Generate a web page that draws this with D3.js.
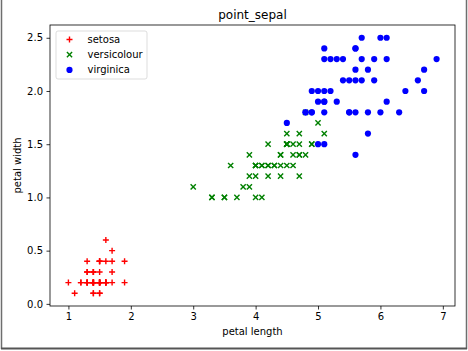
<!DOCTYPE html>
<html>
<head>
<meta charset="utf-8">
<script src="https://cdn.jsdelivr.net/npm/d3@7"></script>
<style>
  body { margin: 0; background: #fff; }
  text { font-family: "DejaVu Sans", sans-serif; fill: #000; }
</style>
</head>
<body>
<div id="canvas"></div>
<script>
"use strict"

/* Iris petal measurements, one pair of arrays per species */
let setosaLength = [1.4,1.4,1.3,1.5,1.4,1.7,1.4,1.5,1.4,1.5,1.5,1.6,1.4,1.1,1.2,1.5,1.3,1.4,1.7,1.5,
    1.7,1.5,1.0,1.7,1.9,1.6,1.6,1.5,1.4,1.6,1.6,1.5,1.5,1.4,1.5,1.2,1.3,1.4,1.3,1.5,
    1.3,1.3,1.3,1.6,1.9,1.4,1.6,1.4,1.5,1.4];
let setosaWidth = [0.2,0.2,0.2,0.2,0.2,0.4,0.3,0.2,0.2,0.1,0.2,0.2,0.1,0.1,0.2,0.4,0.4,0.3,0.3,0.3,
    0.2,0.4,0.2,0.5,0.2,0.2,0.4,0.2,0.2,0.2,0.2,0.4,0.1,0.2,0.2,0.2,0.2,0.1,0.2,0.2,
    0.3,0.3,0.2,0.6,0.4,0.3,0.2,0.2,0.2,0.2];

let versicolourLength = [4.7,4.5,4.9,4.0,4.6,4.5,4.7,3.3,4.6,3.9,3.5,4.2,4.0,4.7,3.6,4.4,4.5,4.1,4.5,3.9,
    4.8,4.0,4.9,4.7,4.3,4.4,4.8,5.0,4.5,3.5,3.8,3.7,3.9,5.1,4.5,4.5,4.7,4.4,4.1,4.0,
    4.4,4.6,4.0,3.3,4.2,4.2,4.2,4.3,3.0,4.1];
let versicolourWidth = [1.4,1.5,1.5,1.3,1.5,1.3,1.6,1.0,1.3,1.4,1.0,1.5,1.0,1.4,1.3,1.4,1.5,1.0,1.5,1.1,
    1.8,1.3,1.5,1.2,1.3,1.4,1.4,1.7,1.5,1.0,1.1,1.0,1.2,1.6,1.5,1.6,1.5,1.3,1.3,1.3,
    1.2,1.4,1.2,1.0,1.3,1.2,1.3,1.3,1.1,1.3];

let virginicaLength = [6.0,5.1,5.9,5.6,5.8,6.6,4.5,6.3,5.8,6.1,5.1,5.3,5.5,5.0,5.1,5.3,5.5,6.7,6.9,5.0,
    5.7,4.9,6.7,4.9,5.7,6.0,4.8,4.9,5.6,5.8,6.1,6.4,5.6,5.1,5.6,6.1,5.6,5.5,4.8,5.4,
    5.6,5.1,5.1,5.9,5.7,5.2,5.0,5.2,5.4,5.1];
let virginicaWidth = [2.5,1.9,2.1,1.8,2.2,2.1,1.7,1.8,1.8,2.5,2.0,1.9,2.1,2.0,2.4,2.3,1.8,2.2,2.3,1.5,
    2.3,2.0,2.0,1.8,2.1,1.8,1.8,1.8,2.1,1.6,1.9,2.0,2.2,1.5,1.4,2.3,2.4,1.8,1.8,2.1,
    2.4,2.3,1.9,2.3,2.5,2.3,1.9,2.0,2.3,1.8];

let speciesNames = ["setosa", "versicolour", "virginica"];
let xTicks = [1, 2, 3, 4, 5, 6, 7];
let yTicks = [0.0, 0.5, 1.0, 1.5, 2.0, 2.5];

/* Drawing configuration */
let svgWidth = 468;
let svgHeight = 351;
let margin = { top: 25, right: 13, bottom: 45, left: 50 };
let chartWidth = svgWidth - margin.left - margin.right;
let chartHeight = svgHeight - margin.top - margin.bottom;

let svg = d3.select("#canvas")
    .append("svg")
    .attr("width", svgWidth)
    .attr("height", svgHeight);

// window frame around the figure
svg.append("rect").attr("width", svgWidth).attr("height", svgHeight).attr("fill", "#fff");
svg.append("line").attr("x1", 1.5).attr("x2", 1.5).attr("y1", 0).attr("y2", 349)
    .attr("stroke", "#6e6e6e").attr("stroke-width", 1.5);
svg.append("line").attr("x1", 466.5).attr("x2", 466.5).attr("y1", 0).attr("y2", 349)
    .attr("stroke", "#6e6e6e").attr("stroke-width", 1.5);
svg.append("line").attr("x1", 1).attr("x2", 467).attr("y1", 348.5).attr("y2", 348.5)
    .attr("stroke", "#555").attr("stroke-width", 2);

/* Group the arrays into point lists */
function zipPoints(xs, ys) {
    return xs.map(function(x, i) { return { x: x, y: ys[i] }; });
}
let seriesList = [
    { name: speciesNames[0], points: zipPoints(setosaLength, setosaWidth), color: "#ff0000", marker: "plus" },
    { name: speciesNames[1], points: zipPoints(versicolourLength, versicolourWidth), color: "#008000", marker: "cross" },
    { name: speciesNames[2], points: zipPoints(virginicaLength, virginicaWidth), color: "#0000ff", marker: "dot" }
];

/* Scales with matplotlib-like 5% padding */
let allX = setosaLength.concat(versicolourLength, virginicaLength);
let allY = setosaWidth.concat(versicolourWidth, virginicaWidth);
let xExt = d3.extent(allX);
let yExt = d3.extent(allY);
let xPad = (xExt[1] - xExt[0]) * 0.05;
let yPad = (yExt[1] - yExt[0]) * 0.05;

let xScale = d3.scaleLinear()
    .domain([xExt[0] - xPad, xExt[1] + xPad])
    .range([margin.left, margin.left + chartWidth]);
let yScale = d3.scaleLinear()
    .domain([yExt[0] - yPad, yExt[1] + yPad])
    .range([margin.top + chartHeight, margin.top]);

/* Axes */
let xAxis = d3.axisBottom(xScale).tickValues(xTicks).tickFormat(d3.format("d"))
    .tickSizeInner(3.5).tickSizeOuter(0).tickPadding(3.5);
let yAxis = d3.axisLeft(yScale).tickValues(yTicks).tickFormat(d3.format(".1f"))
    .tickSizeInner(3.5).tickSizeOuter(0).tickPadding(3.5);

let gx = svg.append("g")
    .attr("transform", "translate(0," + (margin.top + chartHeight) + ")")
    .call(xAxis);
let gy = svg.append("g")
    .attr("transform", "translate(" + margin.left + ",0)")
    .call(yAxis);
[gx, gy].forEach(function(g) {
    g.select(".domain").remove();
    g.selectAll(".tick line").attr("stroke", "#000").attr("stroke-width", 0.8);
    g.selectAll(".tick text")
        .style("font-family", "'DejaVu Sans', sans-serif")
        .style("font-size", "10px")
        .attr("fill", "#000");
});

/* Marker drawing */
function drawMarker(g, type, color, cx, cy) {
    if (type === "plus") {
        let a = 3;
        g.append("path")
            .attr("d", "M" + (cx - a) + "," + cy + "H" + (cx + a) + "M" + cx + "," + (cy - a) + "V" + (cy + a))
            .attr("stroke", color).attr("stroke-width", 1.4).attr("fill", "none");
    } else if (type === "cross") {
        let a = 2.6;
        g.append("path")
            .attr("d", "M" + (cx - a) + "," + (cy - a) + "L" + (cx + a) + "," + (cy + a) +
                "M" + (cx - a) + "," + (cy + a) + "L" + (cx + a) + "," + (cy - a))
            .attr("stroke", color).attr("stroke-width", 1.4).attr("fill", "none");
    } else {
        g.append("circle")
            .attr("cx", cx).attr("cy", cy).attr("r", 3.1)
            .attr("fill", color);
    }
}

let plotArea = svg.append("g");
seriesList.forEach(function(s) {
    let g = plotArea.append("g");
    s.points.forEach(function(p) {
        drawMarker(g, s.marker, s.color, xScale(p.x), yScale(p.y));
    });
});

/* Axes frame */
svg.append("rect")
    .attr("x", margin.left).attr("y", margin.top)
    .attr("width", chartWidth).attr("height", chartHeight)
    .attr("fill", "none").attr("stroke", "#000").attr("stroke-width", 0.8);

/* Title and axis labels */
svg.append("text")
    .attr("x", margin.left + chartWidth / 2)
    .attr("y", 19)
    .attr("text-anchor", "middle")
    .style("font-size", "12px")
    .text("point_sepal");

svg.append("text")
    .attr("x", margin.left + chartWidth / 2)
    .attr("y", 335)
    .attr("text-anchor", "middle")
    .style("font-size", "10px")
    .text("petal length");

svg.append("text")
    .attr("transform", "rotate(-90)")
    .attr("x", -(margin.top + chartHeight / 2))
    .attr("y", 20.5)
    .attr("text-anchor", "middle")
    .style("font-size", "10px")
    .text("petal width");

/* Legend */
let legendX = 56;
let legendY = 31;
svg.append("rect")
    .attr("x", legendX).attr("y", legendY)
    .attr("width", 91).attr("height", 48)
    .attr("rx", 2).attr("ry", 2)
    .attr("fill", "#fff").attr("fill-opacity", 0.8)
    .attr("stroke", "#d4d4d4").attr("stroke-width", 0.8);

for (let i = 0; i < seriesList.length; i++) {
    let itemY = legendY + 8.5 + i * 15.2;
    let lg = svg.append("g");
    drawMarker(lg, seriesList[i].marker, seriesList[i].color, 69.5, itemY);
    lg.append("text")
        .attr("x", 87.5)
        .attr("y", itemY)
        .attr("dy", "0.35em")
        .style("font-size", "10px")
        .text(seriesList[i].name);
}
</script>
</body>
</html>
